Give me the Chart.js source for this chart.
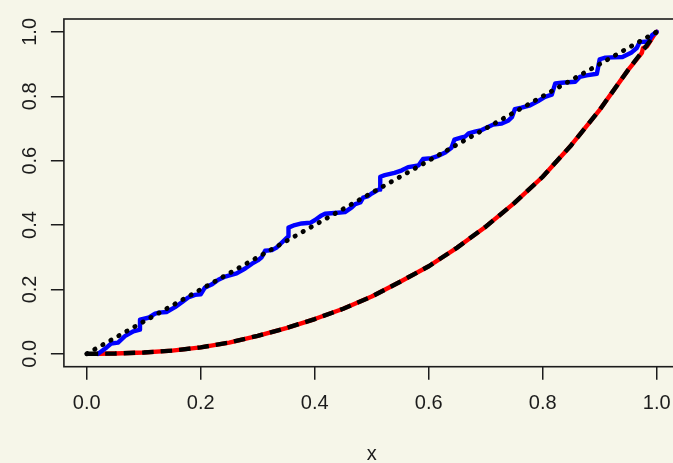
<!DOCTYPE html>
<html>
<head>
<meta charset="utf-8">
<script src="https://cdn.jsdelivr.net/npm/chart.js@4/dist/chart.umd.min.js"></script>
<style>
  html, body { margin: 0; padding: 0; background: #f6f6e9; overflow: hidden; }
  #wrap { width: 673px; height: 463px; overflow: hidden; }
  canvas { display: block; }
</style>
</head>
<body>
<div id="wrap"><canvas id="c" width="690" height="463"></canvas></div>
<script>
// Tick positions on both axes
const xTicks = [0, 0.2, 0.4, 0.6, 0.8, 1.0];
const yTicks = [0, 0.2, 0.4, 0.6, 0.8, 1.0];

// Reference diagonal y = x
const diagX = [0, 1];
const diagY = [0, 1];

// Empirical staircase (blue)
const empX = [0.02, 0.035, 0.043, 0.055, 0.067, 0.082, 0.0935, 0.0935, 0.108, 0.12, 0.127, 0.14,
  0.155, 0.167, 0.178, 0.19, 0.2, 0.207, 0.219, 0.231, 0.243, 0.263, 0.278, 0.29, 0.3, 0.307,
  0.313, 0.325, 0.333, 0.342, 0.351, 0.354, 0.354, 0.365, 0.377, 0.392, 0.4, 0.412, 0.418, 0.44,
  0.453, 0.465, 0.471, 0.48, 0.485, 0.494, 0.5, 0.512, 0.515, 0.515, 0.523, 0.54, 0.553, 0.564,
  0.582, 0.59, 0.605, 0.617, 0.629, 0.64, 0.645, 0.658, 0.664, 0.67, 0.681, 0.693, 0.705, 0.713,
  0.728, 0.74, 0.746, 0.751, 0.763, 0.778, 0.792, 0.804, 0.816, 0.822, 0.833, 0.857, 0.865,
  0.877, 0.895, 0.9, 0.91, 0.94, 0.955, 0.965, 0.97, 0.985, 0.992, 1.0];
const empY = [0, 0.02, 0.032, 0.035, 0.055, 0.07, 0.075, 0.106, 0.112, 0.125, 0.128, 0.13,
  0.145, 0.16, 0.175, 0.183, 0.185, 0.205, 0.215, 0.23, 0.24, 0.25, 0.265, 0.28, 0.29, 0.3,
  0.32, 0.322, 0.33, 0.345, 0.36, 0.365, 0.392, 0.4, 0.405, 0.407, 0.415, 0.43, 0.435, 0.438,
  0.44, 0.455, 0.465, 0.47, 0.485, 0.49, 0.498, 0.51, 0.51, 0.55, 0.555, 0.562, 0.57, 0.58,
  0.585, 0.605, 0.608, 0.615, 0.625, 0.64, 0.665, 0.672, 0.675, 0.685, 0.69, 0.695, 0.705, 0.712,
  0.715, 0.725, 0.735, 0.76, 0.765, 0.772, 0.785, 0.798, 0.805, 0.84, 0.842, 0.845, 0.86,
  0.865, 0.87, 0.915, 0.92, 0.922, 0.935, 0.95, 0.968, 0.97, 0.99, 1.0];

// Estimated curve (red)
const estX = [0.02, 0.05, 0.1, 0.15, 0.2, 0.25, 0.3, 0.35, 0.4, 0.45, 0.5, 0.55, 0.6, 0.65,
  0.7, 0.75, 0.8, 0.85, 0.9, 0.95, 0.974, 0.976, 0.983, 0.997, 1.0];
const estY = [0, 0.001, 0.004, 0.01, 0.02, 0.035, 0.056, 0.08, 0.108, 0.14, 0.178, 0.224, 0.272, 0.33,
  0.395, 0.468, 0.55, 0.648, 0.758, 0.882, 0.935, 0.95, 0.955, 0.995, 1.0];

// Theoretical curve (black dashed)
const theoX = [0, 0.05, 0.1, 0.15, 0.2, 0.25, 0.3, 0.35, 0.4, 0.45, 0.5, 0.55, 0.6, 0.65,
  0.7, 0.75, 0.8, 0.85, 0.9, 0.95, 0.975, 1.0];
const theoY = [0, 0.001, 0.004, 0.01, 0.02, 0.035, 0.056, 0.08, 0.108, 0.14, 0.178, 0.224, 0.272, 0.33,
  0.395, 0.468, 0.55, 0.648, 0.758, 0.882, 0.94, 1.0];

const pts = (xs, ys) => xs.map((x, i) => ({ x: x, y: ys[i] }));

const BG = '#f6f6e9';
const INK = '#1c1c1c';
const FONT = { family: '"Liberation Sans", Arial, Helvetica, sans-serif', size: 20 };

const background = {
  id: 'background',
  beforeDraw(chart) {
    const ctx = chart.ctx;
    ctx.save();
    ctx.fillStyle = BG;
    ctx.fillRect(0, 0, chart.width, chart.height);
    ctx.restore();
  }
};

const frame = {
  id: 'frame',
  afterDatasetsDraw(chart) {
    const a = chart.chartArea;
    const ctx = chart.ctx;
    ctx.save();
    ctx.strokeStyle = INK;
    ctx.lineWidth = 1.6;
    ctx.strokeRect(a.left, a.top, a.right - a.left, a.bottom - a.top);
    ctx.restore();
  }
};

const fmt = v => Number(v).toFixed(1);

new Chart(document.getElementById('c'), {
  type: 'line',
  data: {
    datasets: [
      { data: pts(diagX, diagY), borderColor: '#000000', borderWidth: 4.8,
        borderDash: [0.4, 8.8], borderCapStyle: 'round', order: 0 },
      { data: pts(theoX, theoY), borderColor: '#000000', borderWidth: 4.4,
        borderDash: [11.5, 7], borderCapStyle: 'butt', order: 1 },
      { data: pts(empX, empY), borderColor: '#0000ff', borderWidth: 4.4,
        borderJoinStyle: 'round', borderCapStyle: 'round', order: 2 },
      { data: pts(estX, estY), borderColor: '#ff0000', borderWidth: 4.4,
        borderJoinStyle: 'round', borderCapStyle: 'round', order: 3 }
    ]
  },
  options: {
    responsive: false,
    devicePixelRatio: 1,
    animation: false,
    events: [],
    layout: { padding: { top: 6.7, right: 10.5, left: 0, bottom: 0 } },
    elements: { point: { radius: 0 }, line: { tension: 0, fill: false } },
    plugins: { legend: { display: false }, tooltip: { enabled: false } },
    scales: {
      x: {
        type: 'linear', min: -0.04, max: 1.04,
        afterBuildTicks: s => { s.ticks = xTicks.map(v => ({ value: v })); },
        afterFit: s => { s.height = 96.3; },
        border: { display: false },
        grid: { drawOnChartArea: false, drawTicks: true, tickLength: 13, color: INK, lineWidth: 1.5 },
        ticks: { color: INK, font: FONT, padding: 12, maxRotation: 0, autoSkip: false, callback: fmt },
        title: { display: true, text: 'x', color: INK, font: { ...FONT, lineHeight: 0.9 },
                 padding: { top: 0, bottom: 0 } }
      },
      y: {
        type: 'linear', min: -0.04, max: 1.04,
        afterBuildTicks: s => { s.ticks = yTicks.map(v => ({ value: v })); },
        afterFit: s => { s.width = 63.9; },
        border: { display: false },
        grid: { drawOnChartArea: false, drawTicks: true, tickLength: 13, color: INK, lineWidth: 1.5 },
        ticks: { color: INK, font: FONT, padding: 7, minRotation: 90, maxRotation: 90,
                 crossAlign: 'center', autoSkip: false, callback: fmt }
      }
    }
  },
  plugins: [background, frame]
});
</script>
</body>
</html>
